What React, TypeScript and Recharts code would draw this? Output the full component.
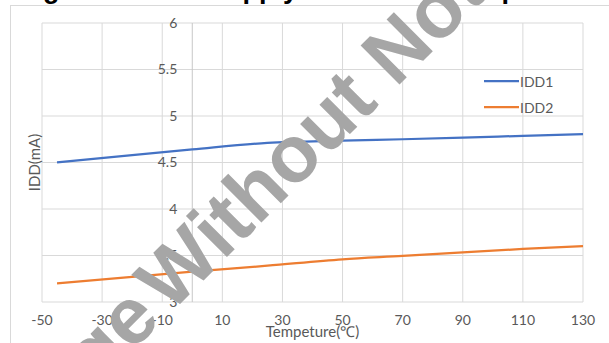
import { CartesianGrid, Label, Legend, Line, LineChart, ReferenceLine, XAxis, YAxis } from 'recharts'

// temperature points (°C) and supply current (mA)
const temps = [-45, -20, 0, 25, 50, 70, 90, 110, 130]
const idd1 = [4.5, 4.58, 4.64, 4.71, 4.735, 4.75, 4.767, 4.787, 4.806]
const idd2 = [3.2, 3.27, 3.326, 3.39, 3.459, 3.495, 3.534, 3.57, 3.602]

const xTicks = [-50, -30, -10, 10, 30, 50, 70, 90, 110, 130]
const yTicks = [3, 3.5, 4, 4.5, 5, 5.5, 6]

const seriesNames = ['IDD1', 'IDD2']
const seriesColors = ['#4472c4', '#ed7d31']

const W = 609
const H = 343
const X_MIN = -50
const X_MAX = 130
const PLOT_LEFT = 42
const PLOT_RIGHT = 26
const PLOT_W = W - PLOT_LEFT - PLOT_RIGHT
const TEXT = '#595959'
const GRID = '#d9d9d9'
const FONT = 'Lato, "Open Sans", sans-serif'
const MARK_FONT = '"Liberation Sans", Arial, sans-serif'

const data = temps.map((t, i) => ({ t, IDD1: idd1[i], IDD2: idd2[i] }))

// excel draws the value axis where x = 0, so put the labels there
const zeroX = PLOT_LEFT + ((0 - X_MIN) / (X_MAX - X_MIN)) * PLOT_W

function YTick({ y, payload }: any) {
  return (
    <text x={zeroX - 15} y={y} dy="0.35em" textAnchor="end" fill={TEXT} fontSize={14} fontFamily={FONT}>
      {payload.value}
    </text>
  )
}

function LegendBox() {
  return (
    <div style={{ fontFamily: FONT, fontSize: 14, color: TEXT }}>
      {seriesNames.map((n, i) => (
        <div key={n} style={{ display: 'flex', alignItems: 'center', height: 26 }}>
          <svg width={36} height={4}>
            <line x1={0} y1={2} x2={35} y2={2} stroke={seriesColors[i]} strokeWidth={2.25} />
          </svg>
          <span>{n}</span>
        </div>
      ))}
    </div>
  )
}

function YLabel({ viewBox }: any) {
  const cx = viewBox.x + viewBox.width - 8
  const cy = viewBox.y + viewBox.height / 2
  return (
    <text
      x={cx}
      y={cy}
      transform={`rotate(-90, ${cx}, ${cy})`}
      textAnchor="middle"
      dominantBaseline="central"
      fill={TEXT}
      fontSize={15}
      fontFamily={FONT}
    >
      IDD(mA)
    </text>
  )
}

export default function App() {
  return (
    <div style={{ position: 'absolute', left: 0, top: 0, width: W, height: H, overflow: 'hidden', background: '#fff' }}>
      <div
        style={{
          position: 'absolute',
          left: 10,
          top: 5,
          width: 700,
          height: 500,
          border: `1px solid ${GRID}`,
        }}
      />
      <div style={{ position: 'absolute', left: 0, top: 0 }}>
        <LineChart width={W} height={H} data={data} margin={{ top: 23, right: PLOT_RIGHT, bottom: 0, left: 0 }}>
          <CartesianGrid stroke={GRID} strokeWidth={1} />
          <XAxis
            type="number"
            dataKey="t"
            domain={[X_MIN, X_MAX]}
            ticks={xTicks}
            interval={0}
            height={41}
            axisLine={false}
            tickLine={false}
            tickSize={0}
            tickMargin={13}
            tick={{ fill: TEXT, fontSize: 14, fontFamily: FONT }}
          >
            <Label value="Tempeture(℃)" position="insideBottom" offset={6} fill={TEXT} fontSize={15} fontFamily={FONT} />
          </XAxis>
          <YAxis
            type="number"
            domain={[3, 6]}
            ticks={yTicks}
            interval={0}
            width={PLOT_LEFT}
            axisLine={false}
            tickLine={false}
            tick={<YTick />}
          >
            <Label content={<YLabel />} />
          </YAxis>
          <ReferenceLine x={0} stroke="#c8c8c8" strokeWidth={1} />
          <Legend
            layout="vertical"
            align="center"
            verticalAlign="middle"
            content={<LegendBox />}
            wrapperStyle={{ position: 'absolute', left: 484, top: 68, width: 90 }}
          />
          {seriesNames.map((n, i) => (
            <Line
              key={n}
              type="monotone"
              dataKey={n}
              stroke={seriesColors[i]}
              strokeWidth={2.25}
              dot={false}
              isAnimationActive={false}
            />
          ))}
        </LineChart>
      </div>
      <svg width={W} height={H} style={{ position: 'absolute', left: 0, top: 0, pointerEvents: 'none' }}>
        <text x={19} y={-2} fontSize={27} fontWeight="bold" fill="#000" fontFamily={MARK_FONT}>
          Figure 12. IDD Supply Current vs Temperature
        </text>
        <g transform="translate(170,314) rotate(-45)" fill="#a6a6a6" fontSize={80} fontWeight="bold" fontFamily={MARK_FONT}>
          <text x={0} y={0}>Without Notice</text>
          <text x={-10} y={0} textAnchor="end">Change</text>
        </g>
      </svg>
    </div>
  )
}
